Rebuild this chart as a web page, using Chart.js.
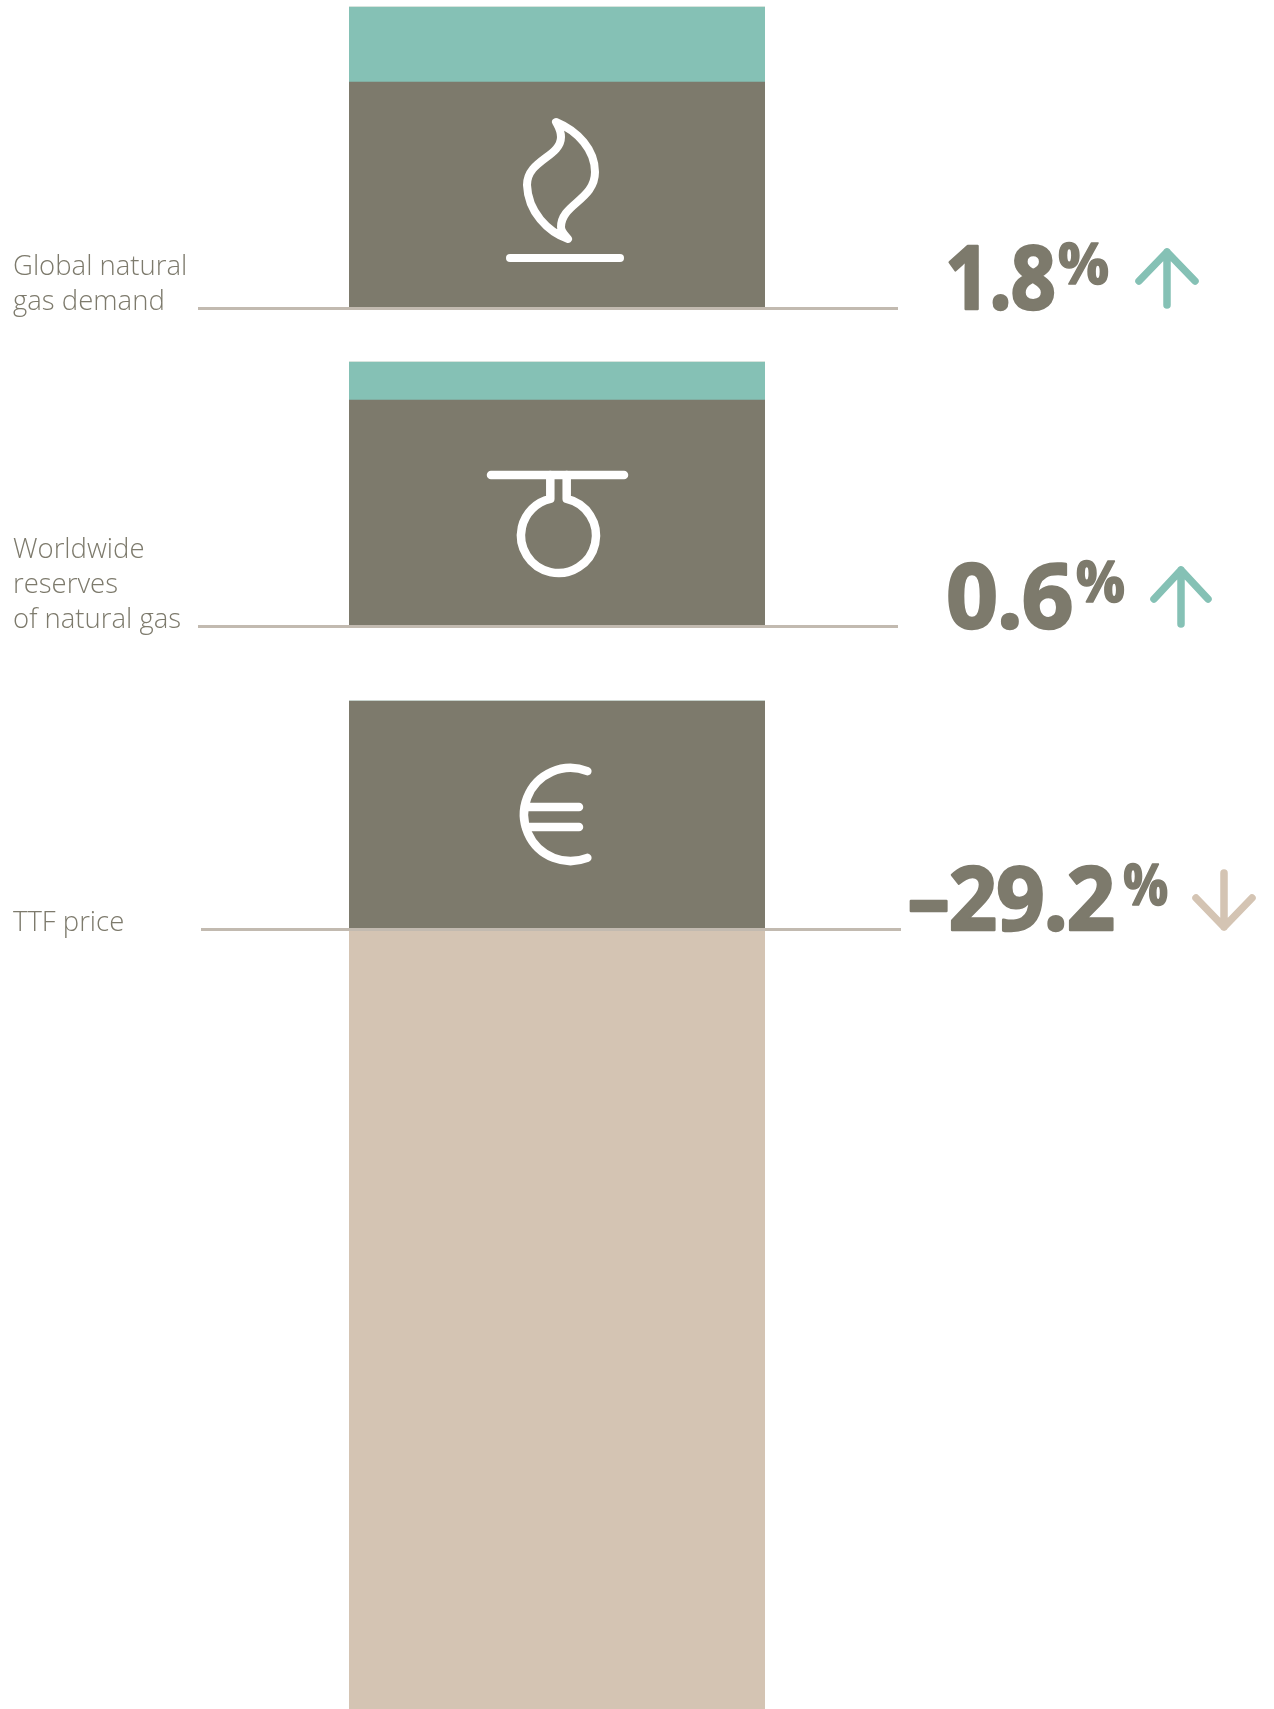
<!DOCTYPE html>
<html>
<head>
<meta charset="utf-8">
<script src="https://cdn.jsdelivr.net/npm/chart.js@4"></script>
<style>
html,body{margin:0;padding:0;background:#fff;width:1274px;height:1709px;overflow:hidden}
canvas{position:absolute;left:0}
</style>
</head>
<body>
<canvas id="c0" width="1274" height="330" style="top:0"></canvas>
<canvas id="c1" width="1274" height="330" style="top:330px"></canvas>
<canvas id="c2" width="1274" height="1049" style="top:660px"></canvas>
<script>
// Data (bar heights are schematic: the grey block of each row = 100)
const categories = ["Global natural gas demand", "Worldwide reserves of natural gas", "TTF price"];
const labelLines = [["Global natural", "gas demand"], ["Worldwide", "reserves", "of natural gas"], ["TTF price"]];
const baseValues = [100, 100, 100.9];
const increaseValues = [33.3, 16.9, 0];
const decreaseValues = [0, 0, -347.1];
const changeLabels = ["1.8", "0.6", "–29.2"];
const directions = ["up", "up", "down"];

// Colours
const GREY = "#7d7a6c", TEAL = "#85c1b5", BEIGE = "#d4c4b3", RULE = "#c2bab0";

// Layout
const PX_PER_UNIT = 2.25;
const rows = [
  {top:0,   height:330,  base:307, rule:[198,898], labelBase:[275,310],
   num:{x:948,w:107,b:310,h:67}, pct:{x:1058,w:51,b:285,h:45}, arrow:{x:1167,a:252,b:305,wy:281,wx:28}},
  {top:330, height:330,  base:625, rule:[198,898], labelBase:[558,593,628],
   num:{x:948,w:124,b:629,h:68}, pct:{x:1076,w:49,b:603,h:45}, arrow:{x:1181,a:570,b:624,wy:599,wx:27}},
  {top:660, height:1049, base:928, rule:[201,901], labelBase:[931],
   num:{x:909,w:205,b:931,h:66}, pct:{x:1123,w:45,b:906,h:44}, arrow:{x:1224,a:873,b:927,wy:898,wx:28}}
];

function strokeStyle(ctx, w){ctx.strokeStyle="#fff";ctx.lineWidth=w;ctx.lineCap="round";ctx.lineJoin="round";}
const icons = [
  function(ctx){ // flame
    strokeStyle(ctx,8);
    ctx.beginPath();
    ctx.moveTo(556,122);
    ctx.bezierCurveTo(578,131,595,150,595,172);
    ctx.bezierCurveTo(595,200,561,204,561,227);
    ctx.bezierCurveTo(561,232,565,235,568,239);
    ctx.bezierCurveTo(548,232,528,212,527,185);
    ctx.bezierCurveTo(527,160,561,157,561,137);
    ctx.bezierCurveTo(561,130,558,126,556,122);
    ctx.closePath();ctx.stroke();
    ctx.beginPath();ctx.moveTo(510,258);ctx.lineTo(620,258);ctx.stroke();
  },
  function(ctx){ // valve
    strokeStyle(ctx,8.5);
    ctx.beginPath();ctx.moveTo(491,475);ctx.lineTo(624,475);ctx.stroke();
    const cx=558.5, cy=535.5, r=37.5, d=8.2, ang=Math.asin(d/r);
    ctx.beginPath();
    ctx.moveTo(cx+d,475);
    ctx.lineTo(cx+d,cy-r*Math.cos(ang));
    ctx.arc(cx,cy,r,-Math.PI/2+ang,-Math.PI/2-ang+2*Math.PI);
    ctx.lineTo(cx-d,475);
    ctx.stroke();
  },
  function(ctx){ // euro
    strokeStyle(ctx,8.5);
    const cx=570.5, cy=814.5, r=46.5;
    ctx.beginPath();
    ctx.arc(cx,cy,r,-1.2,1.2,true);
    ctx.stroke();
    ctx.beginPath();
    ctx.moveTo(526,807);ctx.lineTo(579,807);
    ctx.moveTo(526,827);ctx.lineTo(579,827);
    ctx.stroke();
  }
];

function fitText(ctx, text, font, box, lw, spacing){
  ctx.save();
  ctx.font = font;
  ctx.letterSpacing = spacing;
  ctx.textBaseline = "alphabetic";
  ctx.textAlign = "left";
  const m = ctx.measureText(text);
  const inkW = m.actualBoundingBoxRight + m.actualBoundingBoxLeft;
  const inkH = m.actualBoundingBoxAscent;
  const sx = (box.w-lw)/inkW, sy = (box.h-lw)/inkH;
  ctx.translate(box.x + lw/2 + m.actualBoundingBoxLeft*sx, box.b - lw/2);
  ctx.scale(sx, sy);
  ctx.fillStyle = GREY;
  ctx.strokeStyle = GREY;
  ctx.lineWidth = lw/((sx+sy)/2);
  ctx.lineJoin = "round";
  ctx.strokeText(text, 0, 0);
  ctx.fillText(text, 0, 0);
  ctx.restore();
}

function annotations(i){
  const row = rows[i];
  return {
    id:"annot"+i,
    afterDraw(chart){
      const ctx = chart.ctx;
      ctx.save();
      ctx.translate(0,-row.top);
      // rule
      ctx.fillStyle = RULE;
      ctx.fillRect(row.rule[0], row.base, row.rule[1]-row.rule[0], 3);
      // icon
      icons[i](ctx);
      // left label
      ctx.fillStyle = GREY;
      ctx.font = "300 27.5px 'Open Sans'";
      ctx.textAlign = "left";
      ctx.textBaseline = "alphabetic";
      labelLines[i].forEach((t,k)=>ctx.fillText(t,13,row.labelBase[k]));
      // change value
      fitText(ctx, changeLabels[i], "700 92px 'Open Sans'", row.num, 2.5, "-1px");
      fitText(ctx, "%", "700 60px 'Open Sans'", row.pct, 1.5, "0px");
      // arrow
      const a = row.arrow, up = directions[i]==="up";
      ctx.strokeStyle = up?TEAL:BEIGE;
      ctx.lineWidth = 7.5; ctx.lineCap="round"; ctx.lineJoin="round";
      const tip = up?a.a:a.b, tail = up?a.b:a.a;
      ctx.beginPath();
      ctx.moveTo(a.x,tail);ctx.lineTo(a.x,tip);
      ctx.moveTo(a.x-a.wx,a.wy);ctx.lineTo(a.x,tip);ctx.lineTo(a.x+a.wx,a.wy);
      ctx.stroke();
      ctx.restore();
    }
  };
}

rows.forEach((row,i)=>{
  const below = (row.top+row.height-row.base)/PX_PER_UNIT;
  const above = (row.base-row.top)/PX_PER_UNIT;
  new Chart(document.getElementById("c"+i),{
    type:"bar",
    data:{
      labels:[categories[i]],
      datasets:[
        {label:"Base",data:[baseValues[i]],backgroundColor:GREY,stack:"s"},
        {label:"Increase",data:[increaseValues[i]],backgroundColor:TEAL,stack:"s"},
        {label:"Decrease",data:[decreaseValues[i]],backgroundColor:BEIGE,stack:"s"}
      ]
    },
    options:{
      responsive:false,animation:false,
      layout:{padding:{left:349,right:509,top:0,bottom:0}},
      datasets:{bar:{barPercentage:1,categoryPercentage:1,borderWidth:0}},
      plugins:{legend:{display:false},tooltip:{enabled:false}},
      scales:{
        x:{display:false,stacked:true},
        y:{display:false,stacked:true,min:-below,max:above}
      }
    },
    plugins:[annotations(i)]
  });
});
</script>
</body>
</html>
